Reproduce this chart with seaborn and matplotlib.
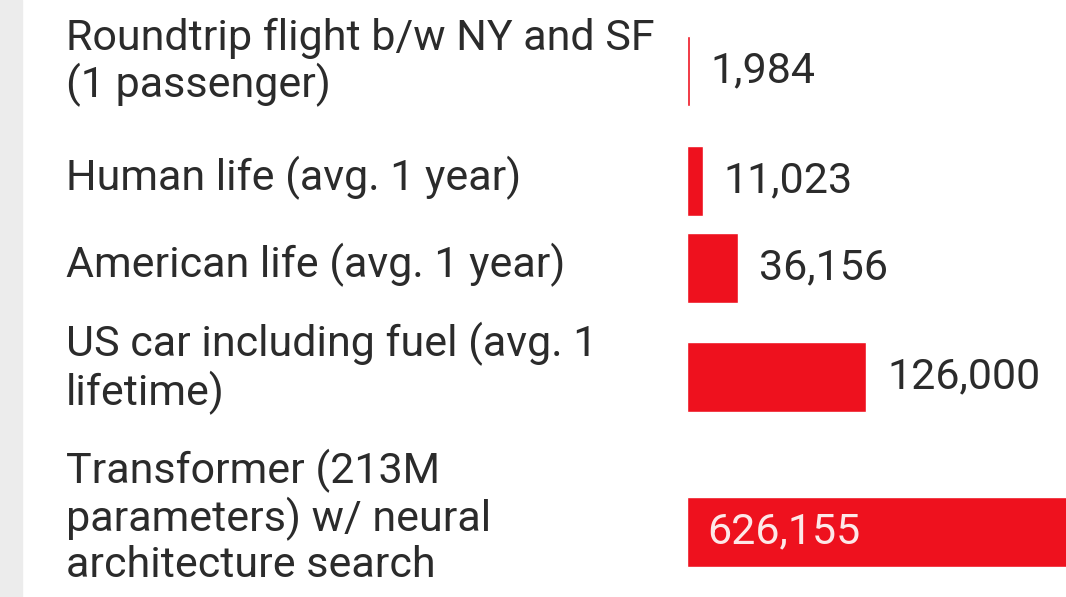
import numpy as np
import pandas as pd
import matplotlib
matplotlib.use('Agg')
import matplotlib.pyplot as plt
from matplotlib.patches import Rectangle
import seaborn as sns

# CO2e (lbs)
labels = [
    'Roundtrip flight b/w NY and SF\n(1 passenger)',
    'Human life (avg. 1 year)',
    'American life (avg. 1 year)',
    'US car including fuel (avg. 1\nlifetime)',
    'Transformer (213M\nparameters) w/ neural\narchitecture search',
]
values = [1984, 11023, 36156, 126000, 626155]

RED = '#ee111e'
TXT = '#2b2b2b'
W, H, DPI = 1066, 597, 100
FS = 31

sns.set_theme(style='white')
plt.rcParams['font.family'] = ['Roboto', 'DejaVu Sans']

# hauteur de ligne selon le nombre de lignes du libellé (mise en page type tableau)
n_lines = np.array([l.count('\n') + 1 for l in labels])
row_h = 42 + 45 * n_lines
centers = 5 + np.cumsum(row_h) - row_h / 2
# le bloc de texte est un peu au-dessus du centre de la barre
label_y = centers - 5.5 * n_lines + 2.5

df = pd.DataFrame({'label': labels, 'value': values, 'y': centers})

fig = plt.figure(figsize=(W / DPI, H / DPI), dpi=DPI)
fig.patches.append(Rectangle((0, 0), 22 / W, 1, transform=fig.transFigure,
                             color='#ececec', zorder=0))

x0 = 687
ax = fig.add_axes([x0 / W, 0, (W - x0) / W, 1])
sns.barplot(data=df, x='value', y='y', orient='h', native_scale=True,
            width=70 / 87, color=RED, saturation=1, ax=ax)

px_per_unit = 179 / 126000
ax.set_xlim(0, (W - x0) / px_per_unit)
ax.set_ylim(H, 0)

ax.set_yticks(label_y, labels=df['label'])
for t in ax.get_yticklabels():
    t.set_ha('left')
    t.set_va('center')
    t.set_linespacing(1.13)
ax.tick_params(axis='y', length=0, pad=(x0 - 66) * 72 / DPI, labelsize=FS,
               labelcolor=TXT)
ax.set_xticks([])
ax.set_xlabel('')
ax.set_ylabel('')
sns.despine(ax=ax, left=True, bottom=True)
ax.patch.set_alpha(0)

xmax = ax.get_xlim()[1]
for v, y in zip(df['value'], df['y']):
    if v > xmax:
        ax.annotate(f'{v:,}', (0, y), xytext=(20 * 72 / DPI, 0),
                    textcoords='offset points', va='center', ha='left',
                    fontsize=FS, color='#fde8e8')
    else:
        ax.annotate(f'{v:,}', (v, y), xytext=(21 * 72 / DPI, 0),
                    textcoords='offset points', va='center', ha='left',
                    fontsize=FS, color=TXT)

fig.savefig('out.png', dpi=DPI)
